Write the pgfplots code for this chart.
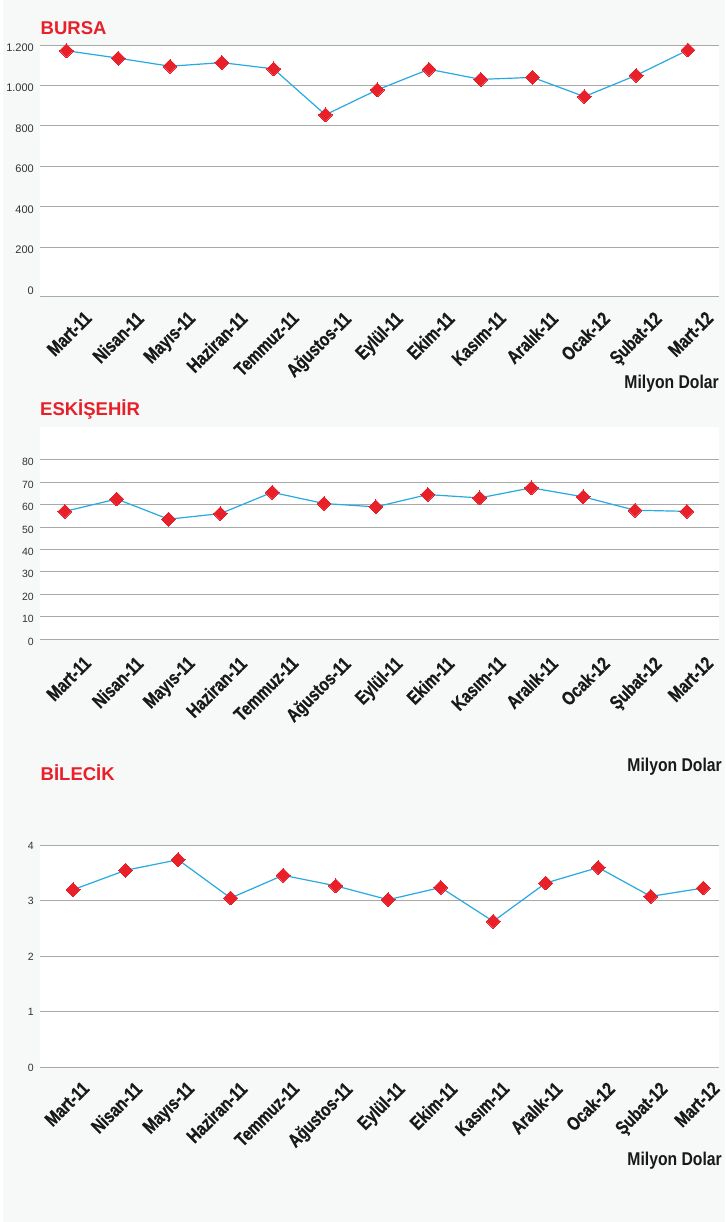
\documentclass[border=0pt]{standalone}
\usepackage{pgfplots}
\pgfplotsset{compat=1.18}
\usepackage{fontspec}
\setmainfont{Liberation Sans}
\newfontfamily\condb{Liberation Sans}[FakeStretch=0.85]
\newfontfamily\condx{Liberation Sans}[FakeStretch=0.8, FakeBold=0.6]

\definecolor{bred}{HTML}{E8202A}
\definecolor{lineblue}{HTML}{27A9E1}
\definecolor{gridgray}{HTML}{A9A9A9}
\definecolor{pagebg}{HTML}{F7F8F8}
\definecolor{labelgray}{HTML}{333333}

\pgfplotsset{
  panel/.style={
    scale only axis, clip=false,
    axis line style={draw=none},
    major tick length=0pt,
    ymajorgrids, grid style={gridgray, line width=0.9pt},
    axis background/.style={fill=white},
    xtick={0,...,12},
    xticklabels={Mart-11,Nisan-11,Mayıs-11,Haziran-11,Temmuz-11,Ağustos-11,Eylül-11,Ekim-11,Kasım-11,Aralık-11,Ocak-12,Şubat-12,Mart-12},
    yticklabel style={font=\fontsize{11}{11}\selectfont, text=labelgray, inner sep=0pt, anchor=east, xshift=-6pt},
  },
  xlab/.style 2 args={
    xticklabel style={font=\condx\bfseries\fontsize{19}{19}\selectfont, text=black!90, inner sep=0pt,
      xshift=#1, yshift=#2, rotate=45, anchor=north east},
  },
  series/.style={lineblue, line width=1.2pt, mark=square*, mark size=4.9pt,
    mark options={rotate=45, fill=bred, draw=bred, line width=0pt}},
}

\begin{document}
\begin{tikzpicture}[x=1pt,y=1pt]
\fill[pagebg] (0,0) rectangle (725,-1222);
\fill[white] (0,0) rectangle (3,-1222);

% --- BURSA ---
\node[anchor=base west, inner sep=0pt, text=bred, font=\bfseries\fontsize{18.5}{18.5}\selectfont] at (40.5,-35) {BURSA};
\begin{axis}[panel, xlab={17pt}{-14pt},
    at={(40pt,-296pt)}, anchor=south west, width=679pt, height=251pt,
    xmin=-0.51, xmax=12.6, ymin=-40.5, ymax=1200,
    ytick={200,400,600,800,1000,1200},
    yticklabels={200,400,600,800,1.000,1.200},
    yticklabel style={yshift=-2.5pt},
    extra y ticks={0}, extra y tick labels={0},
    extra y tick style={grid=none},
]
\addplot[series] coordinates {
  (0,1172) (1,1135) (2,1095) (3,1113) (4,1082) (5,855) (6,978)
  (7,1080) (8,1030) (9,1040) (10,945) (11,1050) (12,1175)
};
\draw[gridgray, line width=0.9pt] (rel axis cs:0,0) -- (rel axis cs:1,0);
\end{axis}
\node[anchor=base east, inner sep=0pt, text=black!90, font=\condb\bfseries\fontsize{18.5}{18.5}\selectfont] at (719,-388) {Milyon Dolar};

% --- ESKISEHIR ---
\node[anchor=base west, inner sep=0pt, text=bred, font=\bfseries\fontsize{18.5}{18.5}\selectfont] at (40,-415) {ESKİŞEHİR};
\begin{axis}[panel, xlab={18pt}{-16pt},
    at={(40pt,-639pt)}, anchor=south west, width=679pt, height=212.3pt,
    xmin=-0.48, xmax=12.62, ymin=0, ymax=94.8,
    ytick={0,10,...,80},
    yticklabels={0,10,20,30,40,50,60,70,80},
    yticklabel style={yshift=-2.5pt, font=\fontsize{10.5}{10.5}\selectfont},
]
\addplot[series] coordinates {
  (0,57) (1,62.5) (2,53.5) (3,56) (4,65.5) (5,60.5) (6,59)
  (7,64.5) (8,63) (9,67.5) (10,63.5) (11,57.5) (12,57)
};
\end{axis}
\node[anchor=base east, inner sep=0pt, text=black!90, font=\condb\bfseries\fontsize{18.5}{18.5}\selectfont] at (722,-771) {Milyon Dolar};

% --- BILECIK ---
\node[anchor=base west, inner sep=0pt, text=bred, font=\bfseries\fontsize{18.5}{18.5}\selectfont] at (40.5,-780.7) {BİLECİK};
\begin{axis}[panel, xlab={8pt}{-13pt},
    at={(40pt,-1067.3pt)}, anchor=south west, width=679pt, height=222pt,
    xmin=-0.63, xmax=12.3, ymin=0, ymax=4,
    ytick={0,1,2,3,4},
    yticklabels={0,1,2,3,4},
    yticklabel style={yshift=-0.5pt, font=\fontsize{10.5}{10.5}\selectfont},
]
\addplot[series] coordinates {
  (0,3.2) (1,3.55) (2,3.74) (3,3.05) (4,3.46) (5,3.27) (6,3.02)
  (7,3.24) (8,2.63) (9,3.32) (10,3.6) (11,3.08) (12,3.23)
};
\end{axis}
\node[anchor=base east, inner sep=0pt, text=black!90, font=\condb\bfseries\fontsize{18.5}{18.5}\selectfont] at (722,-1165) {Milyon Dolar};
\end{tikzpicture}
\end{document}
